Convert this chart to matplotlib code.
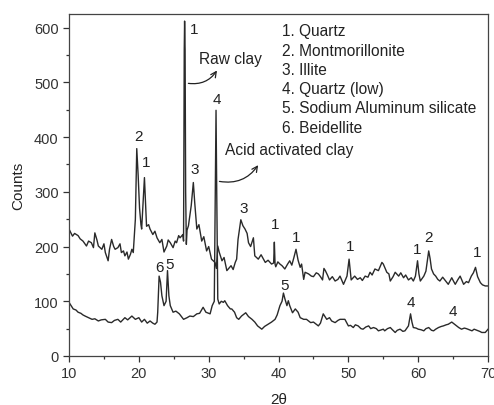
import matplotlib
matplotlib.use("Agg")
import matplotlib.pyplot as plt
from matplotlib.ticker import MultipleLocator

plt.rcParams['font.family'] = ['Liberation Sans', 'DejaVu Sans']

# raw clay trace (2theta, counts)
raw_x = [10.0, 10.5, 10.8, 11.3, 11.6, 12.0, 12.5, 12.8, 13.2, 13.5, 13.7, 14.0, 14.2, 14.7, 15.0,
         15.2, 15.6, 15.8, 16.1, 16.4, 16.6, 17.0, 17.3, 17.5, 17.8, 18.0, 18.3, 18.5, 18.8, 19.0,
         19.2, 19.5, 19.7, 19.9, 20.1, 20.3, 20.4, 20.6, 20.8, 20.95, 21.1, 21.4, 21.6, 22.0, 22.3,
         22.6, 23.0, 23.3, 23.6, 24.0, 24.2, 24.5, 24.9, 25.2, 25.4, 25.7, 25.9, 26.1, 26.3, 26.4,
         26.5, 26.55, 26.62, 26.7, 26.8, 26.9, 27.1, 27.3, 27.5, 27.8, 28.0, 28.3, 28.6, 29.0, 29.3,
         29.7, 30.0, 30.4, 30.9, 31.1, 31.3, 31.5, 31.9, 32.2, 32.6, 33.2, 33.5, 33.8, 34.0, 34.2,
         34.6, 34.9, 35.2, 35.5, 35.7, 36.0, 36.4, 36.6, 37.1, 37.5, 38.1, 38.5, 39.0, 39.3, 39.4,
         39.5, 39.6, 39.9, 40.2, 40.5, 40.9, 41.3, 41.6, 41.9, 42.2, 42.5, 42.8, 43.1, 43.3, 43.6,
         43.8, 44.3, 44.7, 45.0, 45.4, 45.7, 46.0, 46.3, 46.5, 46.7, 47.0, 47.3, 47.7, 48.1, 48.5,
         48.8, 49.0, 49.3, 49.6, 49.8, 50.1, 50.4, 50.9, 51.3, 51.7, 52.0, 52.4, 52.8, 53.1, 53.4,
         53.8, 54.3, 54.8, 55.0, 55.5, 55.8, 56.0, 56.4, 56.7, 57.2, 57.5, 57.9, 58.2, 58.6, 59.0,
         59.3, 59.6, 59.9, 60.1, 60.3, 60.8, 61.1, 61.5, 61.7, 61.9, 62.2, 62.5, 62.8, 63.1, 63.5,
         63.8, 64.3, 64.8, 65.0, 65.3, 65.7, 66.0, 66.3, 66.5, 66.9, 67.2, 67.6, 67.9, 68.2, 68.5,
         68.9, 69.2, 69.6, 70.0]
raw_y = [232, 219, 224, 220, 214, 210, 201, 210, 207, 198, 225, 212, 201, 195, 205,
         189, 174, 195, 213, 200, 195, 198, 205, 189, 192, 183, 190, 177, 186, 195,
         189, 250, 379, 330, 270, 240, 232, 280, 326, 280, 237, 240, 232, 222, 228,
         216, 207, 213, 190, 201, 212, 207, 198, 210, 207, 220, 216, 219, 222, 210,
         560, 612, 560, 300, 204, 230, 238, 256, 275, 317, 280, 232, 240, 210, 218,
         192, 200, 177, 171, 160, 201, 190, 174, 180, 156, 165, 158, 171, 177, 213,
         249, 238, 232, 224, 207, 200, 216, 183, 177, 185, 171, 175, 168, 170, 208,
         168, 163, 172, 168, 165, 159, 168, 174, 166, 180, 195, 175, 162, 168, 140,
         153, 150, 146, 145, 152, 150, 145, 139, 160, 156, 148, 139, 145, 137, 140,
         146, 140, 131, 140, 146, 177, 139, 146, 140, 143, 138, 146, 144, 153, 148,
         159, 156, 171, 168, 153, 150, 137, 145, 153, 146, 152, 143, 148, 139, 143,
         137, 146, 174, 150, 137, 146, 155, 192, 178, 159, 150, 146, 140, 137, 144,
         139, 131, 143, 138, 131, 140, 146, 137, 131, 136, 134, 146, 152, 162, 145,
         134, 130, 128, 128]

# acid activated clay trace
acid_x = [10.0, 10.3, 10.6, 11.0, 11.3, 11.7, 12.0, 12.3, 12.8, 13.3, 13.7, 14.2, 14.6, 15.2, 15.6,
          16.1, 16.5, 17.0, 17.4, 18.0, 18.4, 19.0, 19.5, 20.0, 20.4, 20.8, 21.2, 21.6, 22.0, 22.3,
          22.6, 22.7, 22.9, 23.1, 23.3, 23.6, 23.9, 24.1, 24.3, 24.5, 24.9, 25.3, 25.8, 26.4, 26.9,
          27.3, 27.8, 28.3, 28.7, 29.2, 29.6, 30.2, 30.5, 30.8, 30.95, 31.05, 31.15, 31.3, 31.5, 31.8,
          32.1, 32.3, 32.7, 33.1, 33.3, 33.7, 34.0, 34.3, 34.7, 35.3, 35.7, 36.2, 36.6, 37.0, 37.6,
          38.0, 38.5, 39.0, 39.5, 39.8, 40.2, 40.5, 40.7, 40.9, 41.2, 41.4, 41.6, 42.0, 42.4, 42.8,
          43.1, 43.6, 44.0, 44.6, 45.0, 45.7, 46.0, 46.4, 46.9, 47.3, 47.6, 48.1, 48.5, 48.8, 49.5,
          50.0, 50.3, 50.7, 51.0, 51.4, 51.8, 52.1, 52.5, 52.9, 53.2, 53.6, 54.0, 54.3, 55.0, 55.2,
          55.6, 56.0, 56.3, 56.7, 57.0, 57.4, 57.8, 58.1, 58.6, 58.9, 59.1, 59.3, 59.7, 60.0, 60.4,
          60.8, 61.1, 61.5, 61.9, 62.2, 62.5, 62.9, 63.3, 63.6, 64.0, 64.3, 64.8, 65.1, 65.5, 65.8,
          66.2, 66.6, 66.9, 67.3, 67.7, 68.0, 68.4, 68.8, 69.1, 69.6, 70.0]
acid_y = [98, 92, 86, 84, 80, 78, 75, 73, 70, 67, 68, 64, 66, 67, 62,
          61, 65, 67, 62, 70, 66, 73, 67, 70, 62, 67, 60, 64, 60, 58,
          62, 80, 146, 135, 110, 92, 100, 156, 110, 92, 80, 82, 77, 67, 70,
          73, 72, 77, 78, 89, 80, 77, 92, 100, 300, 449, 300, 104, 95, 100,
          98, 101, 92, 86, 86, 80, 70, 67, 73, 79, 72, 67, 62, 55, 49,
          54, 58, 62, 67, 75, 92, 100, 115, 105, 92, 101, 92, 79, 86, 80,
          70, 67, 67, 61, 62, 55, 60, 77, 67, 70, 64, 61, 65, 67, 67,
          55, 56, 52, 57, 55, 50, 49, 53, 55, 50, 52, 50, 46, 49, 46,
          50, 52, 48, 43, 47, 49, 45, 46, 55, 77, 62, 52, 51, 49, 48,
          46, 50, 52, 47, 46, 49, 52, 54, 55, 57, 58, 62, 59, 55, 52,
          49, 51, 50, 48, 46, 49, 47, 45, 43, 43, 49]

# peak labels: (text, 2theta, counts)
peak_text = ['2', '1', '1', '3', '4', '3', '1', '1', '1', '1', '2', '1', '6', '5', '5', '4', '4']
peak_x = [20.0, 21.0, 27.9, 28.0, 31.15, 35.0, 39.5, 42.5, 50.2, 59.9, 61.5, 68.4, 23.0, 24.4, 40.8, 58.9, 64.9]
peak_y = [402, 355, 598, 341, 469, 271, 241, 217, 201, 196, 218, 190, 162, 168, 130, 98, 83]

phases = ['1. Quartz', '2. Montmorillonite', '3. Illite', '4. Quartz (low)',
          '5. Sodium Aluminum silicate', '6. Beidellite']

fig = plt.figure(figsize=(4.94, 4.06), dpi=100)
ax = fig.add_axes([0.1397, 0.1207, 0.8483, 0.8424])

ax.plot(raw_x, raw_y, color='#2a2a2a', lw=1.0)
ax.plot(acid_x, acid_y, color='#2a2a2a', lw=1.0)

for t, x, y in zip(peak_text, peak_x, peak_y):
    ax.text(x, y, t, ha='center', va='center', fontsize=11, color='#222222')

# phase list
for i, p in enumerate(phases):
    ax.text(40.5, 594 - i * 35.2, p, ha='left', va='center', fontsize=11.2, color='#222222')

ax.text(28.6, 544, 'Raw clay', ha='left', va='center', fontsize=11.2, color='#222222')
ax.annotate('', xy=(31.4, 526), xytext=(26.7, 499),
            arrowprops=dict(arrowstyle='->', color='#222222', lw=0.9,
                            connectionstyle='arc3,rad=0.35'))
ax.text(32.3, 378, 'Acid activated clay', ha='left', va='center', fontsize=11.2, color='#222222')
ax.annotate('', xy=(37.3, 353), xytext=(31.15, 320),
            arrowprops=dict(arrowstyle='->', color='#222222', lw=0.9,
                            connectionstyle='arc3,rad=0.35'))

ax.set_xlim(10, 70)
ax.set_ylim(0, 625)
ax.xaxis.set_major_locator(MultipleLocator(10))
ax.xaxis.set_minor_locator(MultipleLocator(5))
ax.yaxis.set_major_locator(MultipleLocator(100))
ax.yaxis.set_minor_locator(MultipleLocator(50))
ax.tick_params(which='major', direction='out', length=4, width=0.9, colors='#333333', labelsize=10.5)
ax.tick_params(which='minor', direction='out', length=2.5, width=0.9, colors='#333333')
for s in ax.spines.values():
    s.set_color('#444444')
    s.set_linewidth(0.9)

ax.set_xlabel('2θ', fontsize=11, color='#222222', labelpad=8)
ax.set_ylabel('Counts', fontsize=11, color='#222222', labelpad=6)

fig.savefig('out.png', dpi=100)
